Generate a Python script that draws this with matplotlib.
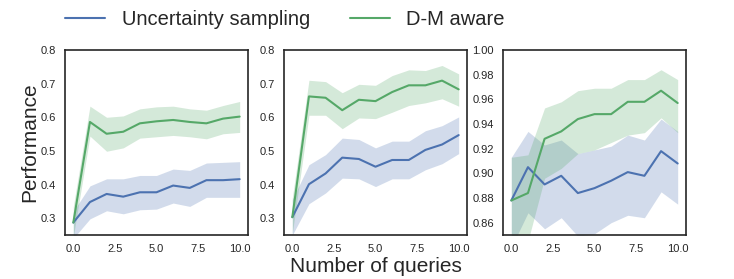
import numpy as np
import matplotlib
matplotlib.use("Agg")
import matplotlib.pyplot as plt
import seaborn as sns

sns.set_style("white")
plt.rcParams['font.family'] = ['Liberation Sans', 'DejaVu Sans']

queries = list(range(11))

# panel 1
unc1 = [0.287, 0.348, 0.372, 0.364, 0.377, 0.377, 0.397, 0.390, 0.413, 0.413, 0.416]
unc1_hi = [0.320, 0.396, 0.417, 0.417, 0.427, 0.427, 0.446, 0.442, 0.464, 0.466, 0.468]
unc1_lo = [0.240, 0.298, 0.322, 0.313, 0.325, 0.327, 0.345, 0.335, 0.362, 0.362, 0.362]
dm1 = [0.287, 0.586, 0.551, 0.557, 0.582, 0.588, 0.592, 0.586, 0.582, 0.596, 0.602]
dm1_hi = [0.335, 0.633, 0.600, 0.604, 0.625, 0.631, 0.633, 0.625, 0.621, 0.635, 0.647]
dm1_lo = [0.245, 0.544, 0.499, 0.509, 0.538, 0.542, 0.546, 0.542, 0.536, 0.551, 0.555]

# panel 2
unc2 = [0.303, 0.401, 0.433, 0.480, 0.476, 0.453, 0.473, 0.473, 0.503, 0.519, 0.547]
unc2_hi = [0.355, 0.459, 0.489, 0.538, 0.534, 0.509, 0.529, 0.529, 0.560, 0.575, 0.601]
unc2_lo = [0.250, 0.343, 0.375, 0.419, 0.417, 0.394, 0.417, 0.417, 0.444, 0.462, 0.492]
dm2 = [0.303, 0.662, 0.658, 0.621, 0.652, 0.648, 0.675, 0.695, 0.695, 0.709, 0.683]
dm2_hi = [0.360, 0.710, 0.706, 0.673, 0.698, 0.695, 0.724, 0.741, 0.739, 0.754, 0.729]
dm2_lo = [0.255, 0.606, 0.606, 0.566, 0.598, 0.596, 0.615, 0.635, 0.643, 0.655, 0.633]

# panel 3
unc3 = [0.878, 0.905, 0.891, 0.898, 0.884, 0.888, 0.894, 0.901, 0.898, 0.918, 0.908]
unc3_hi = [0.913, 0.934, 0.923, 0.927, 0.916, 0.919, 0.922, 0.931, 0.927, 0.944, 0.934]
unc3_lo = [0.840, 0.868, 0.855, 0.864, 0.849, 0.851, 0.860, 0.866, 0.864, 0.885, 0.875]
dm3 = [0.878, 0.884, 0.928, 0.934, 0.944, 0.948, 0.948, 0.958, 0.958, 0.967, 0.957]
dm3_hi = [0.913, 0.915, 0.953, 0.958, 0.967, 0.969, 0.969, 0.976, 0.976, 0.984, 0.976]
dm3_lo = [0.800, 0.845, 0.896, 0.904, 0.916, 0.919, 0.925, 0.931, 0.933, 0.945, 0.933]

panels = [
  (unc1, unc1_lo, unc1_hi, dm1, dm1_lo, dm1_hi, (0.25, 0.8), [0.3, 0.4, 0.5, 0.6, 0.7, 0.8], "{:.1f}"),
  (unc2, unc2_lo, unc2_hi, dm2, dm2_lo, dm2_hi, (0.25, 0.8), [0.3, 0.4, 0.5, 0.6, 0.7, 0.8], "{:.1f}"),
  (unc3, unc3_lo, unc3_hi, dm3, dm3_lo, dm3_hi, (0.85, 1.0), [0.86, 0.88, 0.90, 0.92, 0.94, 0.96, 0.98, 1.00], "{:.2f}"),
]

blue = "#4C72B0"
green = "#55A868"

W, H = 734, 279
fig = plt.figure(figsize=(W / 100, H / 100), dpi=100)
lefts = [65, 284, 503]
axes = []
for left, p in zip(lefts, panels):
  ax = fig.add_axes([left / W, (H - 235) / H, 183 / W, 185 / H])
  unc, ulo, uhi, dm, dlo, dhi, ylim, yt, fmt = p
  ax.fill_between(queries, ulo, uhi, color=blue, alpha=0.25, lw=0)
  ax.fill_between(queries, dlo, dhi, color=green, alpha=0.25, lw=0)
  l1, = ax.plot(queries, unc, color=blue, lw=1.5, label="Uncertainty sampling")
  l2, = ax.plot(queries, dm, color=green, lw=1.5, label="D-M aware")
  ax.set_xlim(-0.5, 10.5)
  ax.set_ylim(*ylim)
  ax.set_xticks([0, 2.5, 5, 7.5, 10])
  ax.set_xticklabels(["0.0", "2.5", "5.0", "7.5", "10.0"])
  ax.set_yticks(yt)
  ax.set_yticklabels([fmt.format(v) for v in yt])
  ax.tick_params(labelsize=8, colors=".15", pad=3)
  for s in ax.spines.values():
    s.set_color(".15")
    s.set_linewidth(1.2)
  axes.append(ax)

axes[0].set_ylabel("Performance", fontsize=15, color=".15", labelpad=1)
axes[1].set_xlabel("Number of queries", fontsize=15, color=".15", labelpad=2)

fig.legend([l1, l2], ["Uncertainty sampling", "D-M aware"], loc="upper left",
           bbox_to_anchor=(47 / W, 1.03), ncol=2, frameon=False, fontsize=14.5,
           handlelength=2.0, handletextpad=0.8, columnspacing=2.0)

fig.savefig("out.png", dpi=100)
